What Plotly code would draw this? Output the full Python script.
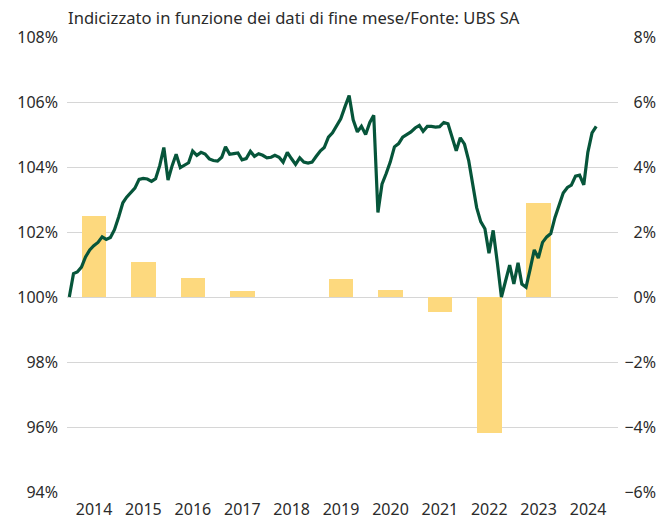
import pandas as pd
import plotly.graph_objects as go

# Monthly index values (end of month), Dec 2013 = 100
month_ends = pd.date_range("2013-12-31", "2024-08-31", freq="ME")
index_values = [
    100.0, 100.72, 100.77, 100.92, 101.23, 101.45, 101.58, 101.68, 101.85, 101.77,
    101.83, 102.07, 102.46, 102.9, 103.07, 103.22, 103.35, 103.62, 103.65, 103.63,
    103.56, 103.64, 104.05, 104.6, 103.6, 104.05, 104.39, 103.98, 104.05, 104.13,
    104.49, 104.36, 104.45, 104.4, 104.25, 104.2, 104.18, 104.3, 104.62, 104.39,
    104.41, 104.43, 104.22, 104.26, 104.48, 104.33, 104.41, 104.36, 104.28, 104.3,
    104.36, 104.3, 104.15, 104.45, 104.26, 104.08, 104.28, 104.15, 104.12, 104.15,
    104.33, 104.5, 104.6, 104.92, 105.05, 105.25, 105.48, 105.85, 106.2, 105.45,
    105.08, 105.25, 105.0, 105.37, 105.59, 102.6, 103.47, 103.8, 104.15, 104.62,
    104.72, 104.92, 105.0, 105.08, 105.2, 105.28, 105.1, 105.25, 105.25, 105.23,
    105.24, 105.37, 105.33, 104.95, 104.5, 104.9, 104.7, 104.2, 103.55, 102.75,
    102.32, 102.1, 101.35, 102.05, 101.05, 100.0, 100.5, 100.98, 100.4, 101.05,
    100.4, 100.3, 100.85, 101.45, 101.2, 101.68, 101.85, 101.95, 102.45, 102.85,
    103.2, 103.37, 103.44, 103.72, 103.75, 103.45, 104.45, 105.05, 105.25,
]

# Annual returns (%)
years = [2014, 2015, 2016, 2017, 2018, 2019, 2020, 2021, 2022, 2023]
annual_returns = [2.5, 1.07, 0.57, 0.18, 0.0, 0.55, 0.22, -0.46, -4.18, 2.9]

tick_years = list(range(2014, 2025))
left_ticks = [94, 96, 98, 100, 102, 104, 106, 108]
right_ticks = [-6, -4, -2, 0, 2, 4, 6, 8]


def pct(v):
    return (f"\u2212{abs(v)}" if v < 0 else f"{v}") + "%"


mid_year = [pd.Timestamp(f"{y}-07-02") for y in years]
tick_pos = [pd.Timestamp(f"{y}-07-02") for y in tick_years]

FONT = "Noto Sans"
TXT = "#2b2b2b"

# layout geometry (pixels)
W, H = 661, 520
ML, MR, MT, MB = 67, 2, 10, 10
PLOT_TOP, PLOT_BOTTOM, PLOT_RIGHT = 37, 492, 618
ph = H - MT - MB
pw = W - ML - MR
XDOM = (PLOT_RIGHT - ML) / pw
YDOM = [(H - MB - PLOT_BOTTOM) / ph, (H - MB - PLOT_TOP) / ph]
R_LO, R_HI = right_ticks[0], right_ticks[-1]
unit = (PLOT_BOTTOM - PLOT_TOP) / (R_HI - R_LO)
Y3_RANGE = [R_LO - (H - MB - PLOT_BOTTOM) / unit, R_HI + (PLOT_TOP - MT) / unit]

fig = go.Figure()
# bars on the base (right-scale) axis
fig.add_trace(go.Bar(
    x=mid_year, y=annual_returns, xaxis="x", yaxis="y",
    width=182 * 24 * 3600 * 1000,
    marker=dict(color="#fdd97e", line=dict(width=0)),
    showlegend=False, hoverinfo="skip",
))
# index line on the overlaying (left-scale) axis, drawn on top
fig.add_trace(go.Scatter(
    x=month_ends, y=index_values, mode="lines", xaxis="x", yaxis="y2",
    line=dict(color="#06553a", width=3.2),
    showlegend=False,
))
# holder for the right-hand tick labels (right-aligned strip)
fig.add_trace(go.Scatter(
    x=[None], y=[None], xaxis="x2", yaxis="y3",
    showlegend=False, hoverinfo="skip",
))

fig.update_layout(
    width=W, height=H,
    margin=dict(l=ML, r=MR, t=MT, b=MB),
    paper_bgcolor="white", plot_bgcolor="white",
    font=dict(family=FONT, size=16, color=TXT),
    xaxis=dict(
        domain=[0, XDOM], anchor="y",
        range=[pd.Timestamp("2013-12-14"), pd.Timestamp("2025-02-08")],
        tickvals=tick_pos, ticktext=[str(y) for y in tick_years],
        showgrid=False, zeroline=False, showline=False,
        ticks="", ticklabelstandoff=6, automargin=False,
        tickfont=dict(family=FONT, size=16, color=TXT),
    ),
    xaxis2=dict(
        domain=[XDOM, 1], anchor="y3", range=[0, 1],
        visible=False, automargin=False,
    ),
    yaxis=dict(
        domain=YDOM, range=[R_LO, R_HI], tickvals=right_ticks, anchor="x",
        showticklabels=False,
        showgrid=True, gridcolor="#d6d6d6", gridwidth=1.3,
        zeroline=False, showline=False, ticks="", automargin=False,
    ),
    yaxis2=dict(
        range=[94, 108], tickvals=left_ticks,
        ticktext=[pct(v) for v in left_ticks],
        overlaying="y", side="left", anchor="x",
        showgrid=False, zeroline=False, showline=False,
        ticks="", ticklabelstandoff=8, automargin=False,
        tickfont=dict(family=FONT, size=16, color=TXT),
    ),
    yaxis3=dict(
        domain=[0, 1], range=Y3_RANGE, tickvals=right_ticks,
        ticktext=[pct(v) for v in right_ticks],
        anchor="x2", side="right", ticklabelposition="inside",
        showgrid=False, zeroline=False, showline=False, ticks="",
        automargin=False,
        tickfont=dict(family=FONT, size=16, color=TXT),
    ),
    annotations=[dict(
        text="Indicizzato in funzione dei dati di fine mese/Fonte: UBS SA",
        xref="x domain", yref="y domain", x=0, y=1,
        xanchor="left", yanchor="bottom",
        xshift=-1, yshift=6, showarrow=False,
        font=dict(family=FONT, size=16.6, color=TXT),
    )],
    bargap=0,
)

fig.write_html(
    "out.html",
    config={"displayModeBar": False},
    post_script="document.body.style.margin='0';document.body.style.overflow='hidden';",
)
